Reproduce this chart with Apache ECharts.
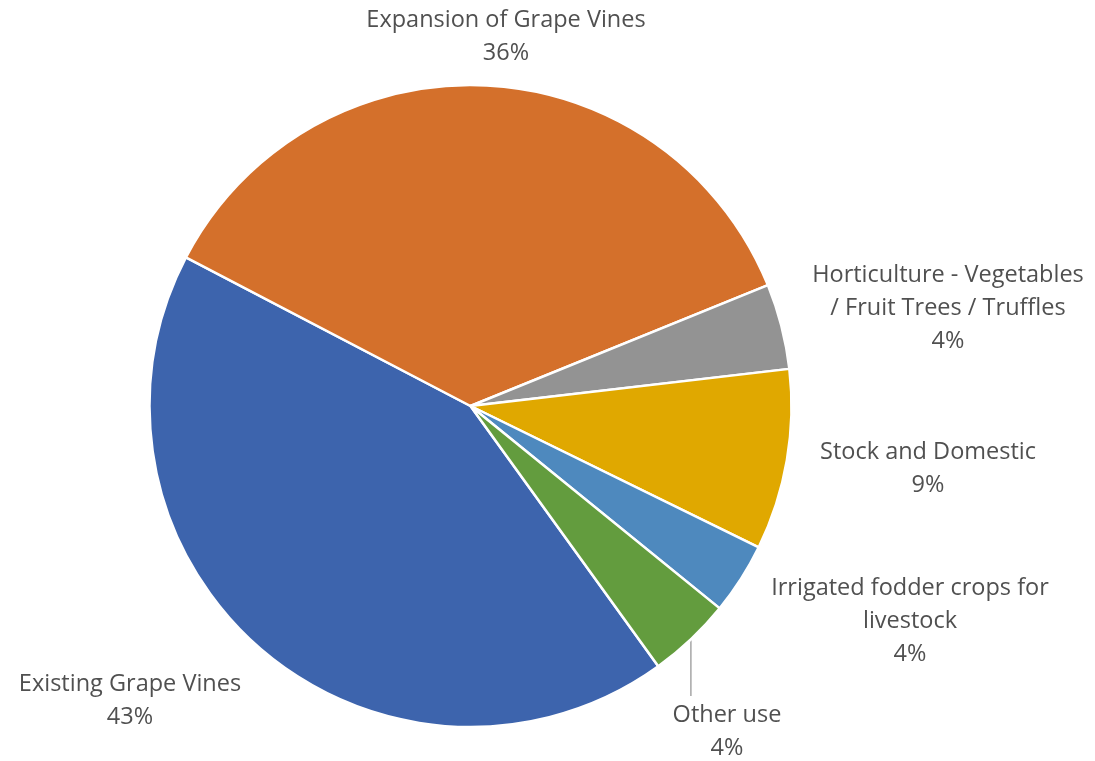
<!DOCTYPE html>
<html>
<head>
<meta charset="utf-8">
<script src="https://cdn.jsdelivr.net/npm/echarts@6/dist/echarts.min.js"></script>
<style>
  html, body { margin: 0; padding: 0; background: #ffffff; }
  #chart { width: 1095px; height: 761px; }
</style>
</head>
<body>
<div id="chart"></div>
<script>
// ---- Data ----
const categories = [
  'Existing Grape Vines',
  'Expansion of Grape Vines',
  'Horticulture - Vegetables\n/ Fruit Trees / Truffles',
  'Stock and Domestic',
  'Irrigated fodder crops for\nlivestock',
  'Other use'
];
const shares = [42.6, 36.2, 4.3, 9.1, 3.6, 4.2];

// ---- Styling / layout ----
const colors = ['#3D64AD', '#D4702B', '#939393', '#E0A800', '#4E89BE', '#639C3E'];
const labelCenters = [[130, 701], [506, 37], [948, 308], [928, 469], [910, 621], [727, 732]];
const LINE_H = 33;

const chart = echarts.init(document.getElementById('chart'), null, { renderer: 'canvas' });

const seriesData = categories.map((name, i) => {
  const item = { name: name, value: shares[i], itemStyle: { color: colors[i] } };
  if (i === 5) item.labelLine = { show: true };
  return item;
});

chart.setOption({
  animation: false,
  backgroundColor: '#ffffff',
  series: [{
    type: 'pie',
    center: [470.5, 406],
    radius: 321,
    startAngle: -54.2,
    clockwise: true,
    avoidLabelOverlap: false,
    emphasis: { disabled: true },
    itemStyle: { borderColor: '#ffffff', borderWidth: 2.5 },
    label: {
      show: true,
      position: 'outside',
      color: '#505050',
      fontFamily: 'Open Sans',
      fontSize: 23.5,
      lineHeight: LINE_H,
      align: 'center',
      formatter: p => p.name + '\n' + Math.round(p.percent) + '%'
    },
    labelLine: {
      show: false,
      lineStyle: { color: '#A6A6A6', width: 1.5 }
    },
    labelLayout: function (params) {
      const c = labelCenters[params.dataIndex];
      const res = { x: c[0], y: c[1], align: 'center', verticalAlign: 'middle' };
      if (params.dataIndex === 5 && params.labelLinePoints) {
        const p0 = params.labelLinePoints[0];
        const top = c[1] - params.labelRect.height / 2;
        res.labelLinePoints = [[p0[0], p0[1]], [p0[0], top - 3]];
      }
      return res;
    },
    data: seriesData
  }]
});
</script>
</body>
</html>
